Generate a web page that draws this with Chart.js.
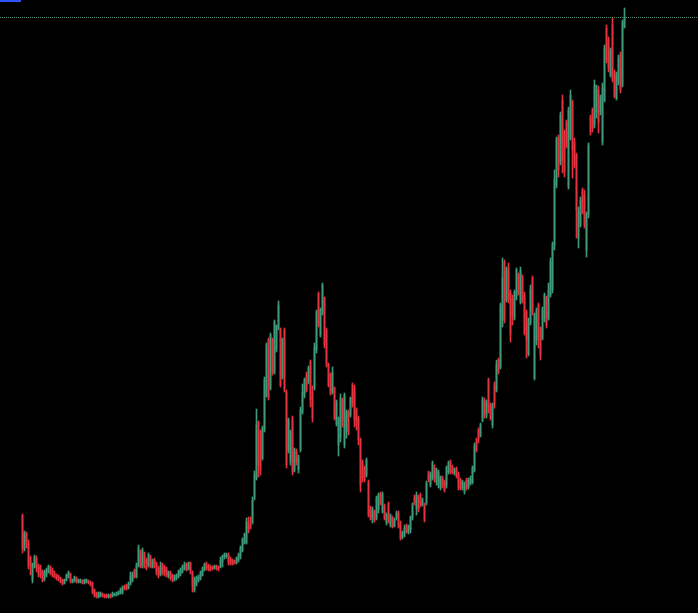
<!DOCTYPE html>
<html>
<head>
<meta charset="utf-8">
<title>Candles</title>
<script src="https://cdn.jsdelivr.net/npm/chart.js@4.4.1/dist/chart.umd.min.js"></script>
<style>
  html, body { margin: 0; padding: 0; background: #000; overflow: hidden; }
  #wrap { width: 698px; height: 613px; }
</style>
</head>
<body>
<div id="wrap"><canvas id="candles" width="698" height="613"></canvas></div>
<script>
/* OHLC, one candle per session, oldest first */
const opens = [
  97,64,79,69,55,33,47,55,47,46, 41,34,38,42,46,43,40,38,37,35,
  33,30,33,37,39,31,32,35,31,31, 32,30,31,32,31,30,23,20,16,17,
  19,18,18,16,18,17,18,18,19,20, 21,27,28,25,29,33,43,36,48,60,
  47,59,53,48,56,46,53,50,45,39, 48,46,44,37,41,38,33,35,37,39,
  42,45,48,44,50,41,23,29,33,35, 38,43,49,47,46,46,45,47,46,46,
  51,56,57,58,55,53,52,50,53,56, 63,71,70,91,89,91,115,135,191,181,
  155,183,218,273,225,273,241,263,285,283, 236,283,221,163,151,195,143,161,143,163,
  201,218,238,231,251,221,225,263,319,278, 301,315,283,248,238,221,225,189,168,175,
  213,168,183,201,198,228,225,203,195,173, 151,145,138,131,105,93,101,95,103,119,
  101,107,90,109,88,95,87,95,100,90, 76,78,87,81,83,95,116,105,116,118,
  108,108,110,140,128,135,145,131,128,125, 135,131,128,141,151,146,140,145,139,133,
  125,121,133,126,130,131,143,173,183,178, 193,213,198,233,208,188,228,223,253,246,
  293,351,313,345,320,315,295,316,338,311, 336,318,301,259,290,335,235,273,308,285,
  275,295,315,295,318,323,368,428,476,450, 513,481,491,426,475,511,471,458,375,388,
  423,418,363,398,495,503,488,501,523,501, 471,513,585,573,538,588,541,515,531,558,528,586
];
const highs = [
  99,82,81,73,57,50,58,57,49,48, 43,43,45,48,47,45,42,39,38,36,
  34,34,39,42,40,34,37,36,34,34, 33,34,34,33,32,31,24,21,21,21,
  20,19,19,19,19,21,20,21,22,25, 27,28,29,31,41,41,44,50,68,63,
  65,61,55,60,58,54,55,51,47,51, 50,48,46,42,42,39,38,39,43,45,
  48,51,50,51,51,42,36,37,38,42, 46,50,51,49,48,47,48,48,47,56,
  58,60,60,60,56,54,53,56,60,67, 75,80,95,96,96,116,142,204,192,183,
  187,236,270,275,280,275,293,288,312,285, 275,285,223,195,183,197,165,164,158,206,
  229,235,241,247,253,227,270,303,321,305, 330,316,285,250,240,246,226,213,196,219,
  215,220,203,203,216,230,228,205,197,175, 153,147,155,133,107,106,103,117,120,121,
  121,109,100,111,99,97,95,102,102,92, 82,88,89,88,97,110,118,121,118,120,
  115,110,132,142,141,152,148,145,143,137, 137,133,147,152,153,148,145,146,141,135,
  133,131,135,135,137,147,170,175,185,190, 216,215,213,235,210,210,231,253,255,310,
  355,353,346,350,323,318,323,345,340,346, 338,321,303,295,328,337,300,305,310,286,
  306,320,317,330,355,371,443,476,478,501, 518,483,493,506,523,513,475,460,406,416,
  425,423,401,470,498,505,533,528,527,518, 530,568,588,576,565,595,543,541,558,561,593,605
];
const lows = [
  60,62,65,44,38,30,45,41,36,35, 31,32,36,40,38,36,35,33,32,30,
  28,29,32,35,30,30,31,30,30,30, 29,29,30,29,27,19,16,15,15,16,
  16,15,15,15,15,16,17,17,18,19, 19,23,23,24,28,31,35,35,46,45,
  45,45,43,46,45,45,45,38,35,37, 38,37,36,35,33,31,32,33,35,37,
  40,43,42,43,39,21,21,27,31,33, 37,42,43,42,42,43,44,43,42,45,
  46,54,55,48,48,48,49,49,51,54, 61,69,69,80,84,89,113,133,136,138,
  153,181,216,213,223,238,239,261,283,226, 234,221,145,160,148,138,141,148,140,161,
  199,215,221,229,206,191,223,260,286,276, 298,265,246,226,218,219,193,187,157,171,
  186,165,175,178,196,206,186,183,168,121, 131,131,136,96,93,90,91,93,100,108,
  100,93,88,90,86,85,86,93,85,73, 74,76,80,79,80,93,108,98,101,106,
  107,91,108,131,126,133,131,128,125,123, 125,121,125,139,139,139,138,135,123,123,
  123,119,123,124,128,129,141,161,170,176, 191,195,195,200,193,185,205,221,239,244,
  286,290,311,310,271,288,293,313,318,309, 310,278,255,257,288,298,233,268,265,253,
  273,291,285,293,316,320,363,425,436,448, 440,436,465,424,473,435,445,375,365,386,
  399,385,356,395,478,481,485,495,480,498, 468,511,550,541,536,531,515,513,528,520,526,585
];
const closes = [
  65,80,68,47,48,48,56,45,39,37, 33,41,43,47,40,38,36,35,34,31,
  29,33,38,41,32,33,36,31,33,33, 30,33,33,30,29,21,17,16,20,20,
  17,16,16,18,16,20,19,20,21,24, 26,24,24,29,37,39,36,48,65,47,
  63,50,45,58,47,52,47,41,38,45, 41,39,38,41,35,33,37,38,41,43,
  46,49,43,50,42,28,33,35,36,40, 44,48,45,44,43,44,47,44,44,53,
  57,59,58,51,49,49,50,55,58,65, 73,78,91,83,85,113,138,188,148,143,
  185,233,268,215,278,241,291,287,308,228, 273,223,148,193,181,141,163,151,155,203,
  221,233,223,245,213,195,266,301,288,303, 328,268,248,228,220,241,195,211,193,215,
  193,218,201,181,215,210,193,188,173,128, 135,133,153,98,95,103,93,115,118,110,
  119,95,98,93,97,86,93,100,86,75, 80,85,81,86,95,108,110,118,103,108,
  113,93,130,133,138,150,135,143,141,135, 127,123,145,150,141,141,143,137,125,125,
  131,129,125,133,135,145,167,163,173,188, 213,201,211,203,195,208,208,248,241,308,
  335,293,343,313,278,298,321,343,321,343, 313,280,273,291,323,301,298,303,273,258,
  303,318,288,323,351,368,433,473,443,498, 453,441,467,503,518,463,448,403,401,413,
  401,388,398,468,481,485,528,523,490,515, 525,565,553,545,563,533,517,538,555,523,591,596
];

const UP = '#3f9a79';
const DOWN = '#e2333f';
const PRICE_LINE = '#4f8a72';
const MARKER = '#2f55ff';

(function () {
  const lastPrice = closes[closes.length - 1];

  function colorAt(i) { return closes[i] >= opens[i] ? UP : DOWN; }

  const wicks  = lows.map((lo, i) => ({ x: i, y: [lo, highs[i]] }));
  const bodies = opens.map((o, i) => ({ x: i, y: [Math.min(o, closes[i]), Math.max(o, closes[i])] }));

  // dotted last-price line + little blue tab in the corner
  const overlay = {
    id: 'overlay',
    beforeDatasetsDraw(chart) {
      const ctx = chart.ctx;
      const y = Math.round(chart.scales.y.getPixelForValue(lastPrice)) + 0.5;
      ctx.save();
      ctx.strokeStyle = PRICE_LINE;
      ctx.lineWidth = 1;
      ctx.setLineDash([1, 1]);
      ctx.beginPath();
      ctx.moveTo(0, y);
      ctx.lineTo(chart.width, y);
      ctx.stroke();
      ctx.restore();
    },
    afterDraw(chart) {
      const ctx = chart.ctx;
      ctx.save();
      ctx.fillStyle = MARKER;
      ctx.fillRect(0, 0, 21, 2);
      ctx.restore();
    }
  };

  const common = {
    type: 'bar',
    grouped: false,
    borderWidth: 0,
    borderSkipped: false,
    backgroundColor: c => colorAt(c.dataIndex)
  };

  new Chart(document.getElementById('candles'), {
    type: 'bar',
    data: {
      datasets: [
        { ...common, label: 'wick', data: wicks, barThickness: 1 },
        { ...common, label: 'body', data: bodies, barThickness: 1 }
      ]
    },
    options: {
      responsive: false,
      animation: false,
      layout: { padding: 0 },
      plugins: { legend: { display: false }, tooltip: { enabled: false } },
      scales: {
        x: { type: 'linear', display: false, offset: false, min: -11.25, max: 337.75 },
        y: { type: 'linear', display: false, min: 0, max: 613 }
      }
    },
    plugins: [overlay]
  });
})();
</script>
</body>
</html>
